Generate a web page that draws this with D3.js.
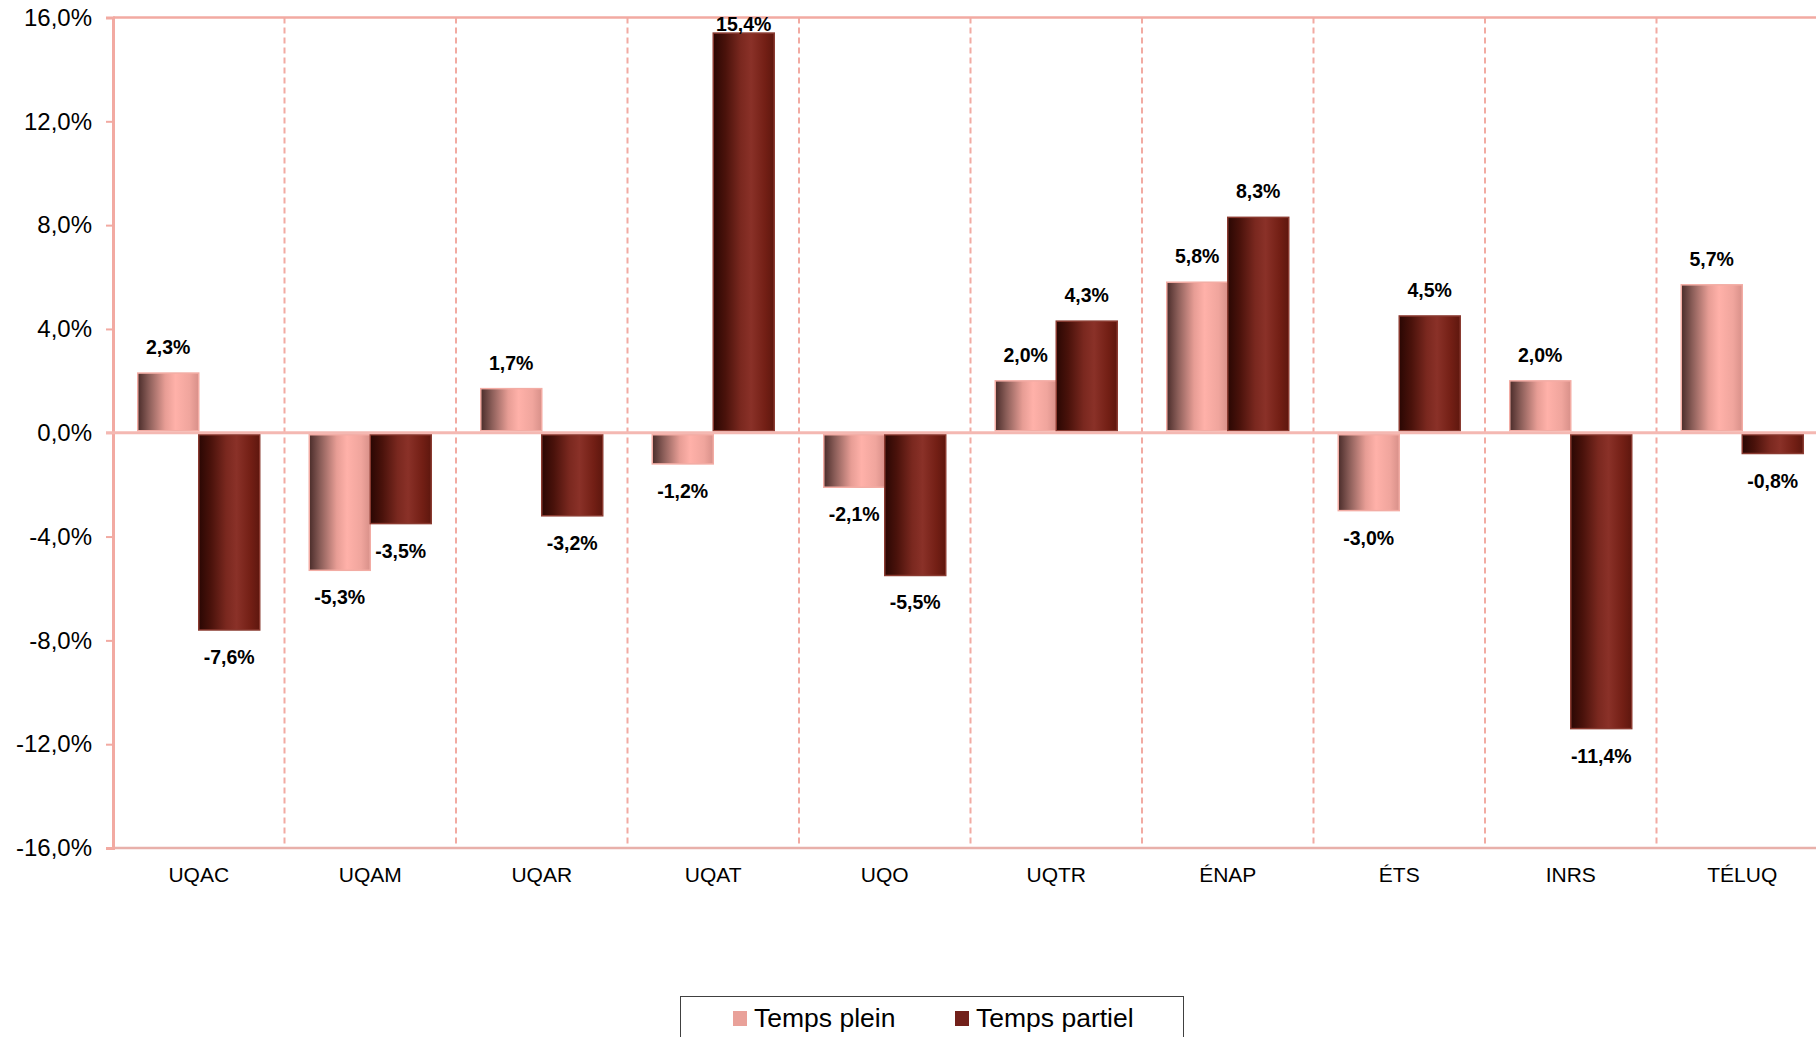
<!DOCTYPE html>
<html>
<head>
<meta charset="utf-8">
<script src="https://cdn.jsdelivr.net/npm/d3@7"></script>
<style>
  body { margin: 0; background: #fff; }
  svg { display: block; font-family: "Liberation Sans", Arial, sans-serif; }
</style>
</head>
<body>
<div id="chart"></div>
<script>
// categories and series values
var categories = ["UQAC", "UQAM", "UQAR", "UQAT", "UQO", "UQTR", "ÉNAP", "ÉTS", "INRS", "TÉLUQ"];
var seriesNames = ["Temps plein", "Temps partiel"];
var tempsPlein = [2.3, -5.3, 1.7, -1.2, -2.1, 2.0, 5.8, -3.0, 2.0, 5.7];
var tempsPartiel = [-7.6, -3.5, -3.2, 15.4, -5.5, 4.3, 8.3, 4.5, -11.4, -0.8];
var yTicks = [-16, -12, -8, -4, 0, 4, 8, 12, 16];

var W = 1816, H = 1037;
var plot = { left: 113, top: 17.5, bottom: 848, right: 1828 };

var fr = d3.formatLocale({ decimal: ",", thousands: " ", grouping: [3], currency: ["", ""], minus: "-" });
var fmt = fr.format(".1f");
function pct(v) { return fmt(v) + "%"; }

var svg = d3.select("#chart").append("svg")
    .attr("width", W).attr("height", H);

var defs = svg.append("defs");

// cylinder-ish shading like the original bars
var gradPlein = defs.append("linearGradient").attr("id", "gPlein")
    .attr("x1", "0%").attr("x2", "100%").attr("y1", "0%").attr("y2", "0%");
[[0, "#4a2c2a"], [0.18, "#8a5d58"], [0.45, "#e79d95"], [0.62, "#ffb1a9"], [0.85, "#f0a59d"], [1, "#d89089"]]
    .forEach(function (s) { gradPlein.append("stop").attr("offset", s[0]).attr("stop-color", s[1]); });

var gradPartiel = defs.append("linearGradient").attr("id", "gPartiel")
    .attr("x1", "0%").attr("x2", "100%").attr("y1", "0%").attr("y2", "0%");
[[0, "#2a0703"], [0.2, "#4a120b"], [0.45, "#7a281f"], [0.62, "#8a3128"], [0.85, "#731f15"], [1, "#5e170e"]]
    .forEach(function (s) { gradPartiel.append("stop").attr("offset", s[0]).attr("stop-color", s[1]); });

var x0 = d3.scaleBand().domain(categories).range([plot.left, plot.right]).paddingInner(0).paddingOuter(0);
var x1 = d3.scaleBand().domain(seriesNames).range([0, x0.bandwidth()]).paddingInner(0).paddingOuter(0.406);
var y = d3.scaleLinear().domain([-16, 16]).range([plot.bottom, plot.top]);

var axisColor = "#f2aaa2";

// dashed category separators
svg.append("g").selectAll("line")
    .data(categories.slice(1))
    .join("line")
    .attr("x1", function (d) { return x0(d); })
    .attr("x2", function (d) { return x0(d); })
    .attr("y1", plot.top).attr("y2", plot.bottom)
    .attr("stroke", axisColor).attr("stroke-width", 2)
    .attr("stroke-dasharray", "6,4");

// top / bottom borders
svg.append("line").attr("x1", plot.left).attr("x2", W).attr("y1", plot.top).attr("y2", plot.top)
    .attr("stroke", axisColor).attr("stroke-width", 2.5);
svg.append("line").attr("x1", plot.left).attr("x2", W).attr("y1", plot.bottom).attr("y2", plot.bottom)
    .attr("stroke", "#e8b0aa").attr("stroke-width", 2.5);

// y axis
var yAxis = d3.axisLeft(y).tickValues(yTicks).tickFormat(pct).tickSize(7).tickPadding(14);
var gy = svg.append("g").attr("transform", "translate(" + plot.left + ",0)").call(yAxis);
gy.select(".domain").attr("stroke", axisColor).attr("stroke-width", 3);
gy.selectAll(".tick line").attr("stroke", axisColor).attr("stroke-width", 2);
gy.selectAll(".tick text").attr("fill", "#000").style("font-size", "24px")
    .style("font-family", "'Liberation Sans', Arial, sans-serif");

// category labels
svg.append("g").selectAll("text")
    .data(categories)
    .join("text")
    .attr("x", function (d) { return x0(d) + x0.bandwidth() / 2; })
    .attr("y", 882)
    .attr("text-anchor", "middle")
    .style("font-size", "21px")
    .attr("fill", "#000")
    .text(function (d) { return d; });

// bars
var rows = categories.map(function (c, i) {
    return { cat: c, vals: [
        { s: seriesNames[0], v: tempsPlein[i], fill: "url(#gPlein)", stroke: "#f3aca4" },
        { s: seriesNames[1], v: tempsPartiel[i], fill: "url(#gPartiel)", stroke: "#8a3a30" }
    ] };
});

var groups = svg.append("g").selectAll("g")
    .data(rows)
    .join("g")
    .attr("transform", function (d) { return "translate(" + x0(d.cat) + ",0)"; });

groups.selectAll("rect")
    .data(function (d) { return d.vals; })
    .join("rect")
    .attr("x", function (d) { return x1(d.s); })
    .attr("width", x1.bandwidth())
    .attr("y", function (d) { return d.v >= 0 ? y(d.v) : y(0) + 2; })
    .attr("height", function (d) { return Math.max(1, Math.abs(y(d.v) - y(0)) - 2); })
    .attr("fill", function (d) { return d.fill; })
    .attr("stroke", function (d) { return d.stroke; })
    .attr("stroke-width", 1.5);

// zero line
svg.append("line").attr("x1", plot.left - 7).attr("x2", W).attr("y1", y(0)).attr("y2", y(0))
    .attr("stroke", "#f4b8b2").attr("stroke-width", 3);

// value labels (kept inside the picture on the right)
groups.selectAll("text")
    .data(function (d) { return d.vals; })
    .join("text")
    .attr("x", function (d) {
        var p = d3.select(this.parentNode).datum();
        var cx = x1(d.s) + x1.bandwidth() / 2;
        var abs = x0(p.cat) + cx;
        return Math.min(abs, W - 32) - x0(p.cat);
    })
    .attr("y", function (d) {
        if (d.v >= 0) return Math.max(y(d.v) - 19, 31);
        return y(d.v) + 34;
    })
    .attr("text-anchor", "middle")
    .style("font-size", "19.5px")
    .style("font-weight", "bold")
    .attr("fill", "#000")
    .text(function (d) { return pct(d.v); });

// legend
var legend = svg.append("g");
legend.append("rect")
    .attr("x", 680.5).attr("y", 996.5).attr("width", 503).attr("height", 60)
    .attr("fill", "#fff").attr("stroke", "#404040").attr("stroke-width", 1);
var legendColors = ["#e9a199", "#72201a"];
var legendX = [733, 955];
seriesNames.forEach(function (n, i) {
    legend.append("rect").attr("x", legendX[i]).attr("y", 1011)
        .attr("width", 14).attr("height", 15).attr("fill", legendColors[i]);
    legend.append("text").attr("x", legendX[i] + 21).attr("y", 1027)
        .style("font-size", "26.5px").attr("fill", "#000").text(n);
});
</script>
</body>
</html>
